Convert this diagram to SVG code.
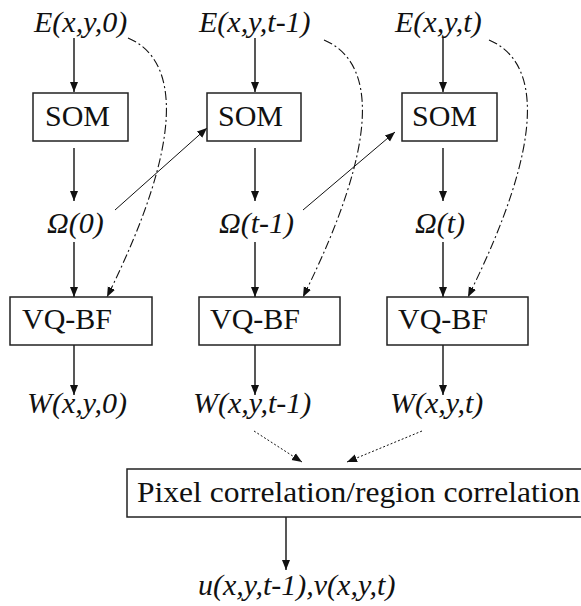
<svg xmlns="http://www.w3.org/2000/svg" width="581" height="606" viewBox="0 0 581 606">
<style>
.box{fill:#fff;stroke:#222;stroke-width:1.5}
.t{font-family:"Liberation Serif","Times New Roman",serif;font-size:30px;fill:#111}
.i{font-style:italic}
.a{fill:none;stroke:#111;stroke-width:1.4}
.thin{fill:none;stroke:#111;stroke-width:1}
.dash{fill:none;stroke:#111;stroke-width:1.1;stroke-dasharray:9 3 2 3}
.dot{fill:none;stroke:#111;stroke-width:1;stroke-dasharray:2 2}
</style>
<defs>
<marker id="ah" viewBox="0 0 10 10" refX="10" refY="5" markerWidth="10" markerHeight="10" markerUnits="userSpaceOnUse" orient="auto">
<path d="M0,1 L10,5 L0,9 Z" fill="#111"/>
</marker>
</defs>
<rect width="581" height="606" fill="#fff"/>
<g id="connectors" marker-end="url(#ah)">
<path class="a" d="M74,38 V92" marker-end="url(#ah)"/>
<path class="a" d="M255,38 V92" marker-end="url(#ah)"/>
<path class="a" d="M443,38 V92" marker-end="url(#ah)"/>
<path class="a" d="M74,148 V201" marker-end="url(#ah)"/>
<path class="a" d="M255,148 V201" marker-end="url(#ah)"/>
<path class="a" d="M443,148 V201" marker-end="url(#ah)"/>
<path class="a" d="M74,242 V297" marker-end="url(#ah)"/>
<path class="a" d="M255,242 V297" marker-end="url(#ah)"/>
<path class="a" d="M443,242 V297" marker-end="url(#ah)"/>
<path class="a" d="M74,345 V395" marker-end="url(#ah)"/>
<path class="a" d="M255,345 V395" marker-end="url(#ah)"/>
<path class="a" d="M443,345 V395" marker-end="url(#ah)"/>
<path class="thin" d="M115,210 L207,128" marker-end="url(#ah)"/>
<path class="thin" d="M303,210 L395,132" marker-end="url(#ah)"/>
<path class="dash" d="M128,38 C180,60 185,140 107,297" marker-end="url(#ah)"/>
<path class="dash" d="M324,40 C376,62 381,140 303,297" marker-end="url(#ah)"/>
<path class="dash" d="M489,40 C541,62 546,140 468,297" marker-end="url(#ah)"/>
<path class="dot" d="M254,431 L302,462" marker-end="url(#ah)"/>
<path class="dot" d="M422,431 L347,462" marker-end="url(#ah)"/>
<path class="a" d="M286,517 V570" marker-end="url(#ah)"/>
</g>
<g id="E0"><text class="t i" x="34" y="32">E(x,y,0)</text></g>
<g id="Et1"><text class="t i" x="199" y="32">E(x,y,t-1)</text></g>
<g id="Et"><text class="t i" x="395" y="32">E(x,y,t)</text></g>
<g id="SOM0"><rect class="box" x="33" y="93" width="95" height="48"/><text class="t" x="45" y="126">SOM</text></g>
<g id="SOM1"><rect class="box" x="207" y="93" width="94" height="48"/><text class="t" x="218" y="126">SOM</text></g>
<g id="SOM2"><rect class="box" x="402" y="93" width="95" height="48"/><text class="t" x="412" y="126">SOM</text></g>
<g id="O0"><text class="t i" x="47" y="233">Ω(0)</text></g>
<g id="Ot1"><text class="t i" x="219" y="233">Ω(t-1)</text></g>
<g id="Ot"><text class="t i" x="415" y="233">Ω(t)</text></g>
<g id="VQ0"><rect class="box" x="10" y="297" width="142" height="48"/><text class="t" x="22" y="329">VQ-BF</text></g>
<g id="VQ1"><rect class="box" x="199" y="297" width="141" height="48"/><text class="t" x="210" y="329">VQ-BF</text></g>
<g id="VQ2"><rect class="box" x="387" y="297" width="141" height="48"/><text class="t" x="398" y="329">VQ-BF</text></g>
<g id="W0"><text class="t i" x="27" y="413">W(x,y,0)</text></g>
<g id="Wt1"><text class="t i" x="193" y="413">W(x,y,t-1)</text></g>
<g id="Wt"><text class="t i" x="390" y="413">W(x,y,t)</text></g>
<g id="corr"><rect class="box" x="127" y="469" width="460" height="48"/><text class="t" x="137" y="502" textLength="443" lengthAdjust="spacingAndGlyphs">Pixel correlation/region correlation</text></g>
<g id="uv"><text class="t i" x="198" y="595">u(x,y,t-1),v(x,y,t)</text></g>
</svg>
